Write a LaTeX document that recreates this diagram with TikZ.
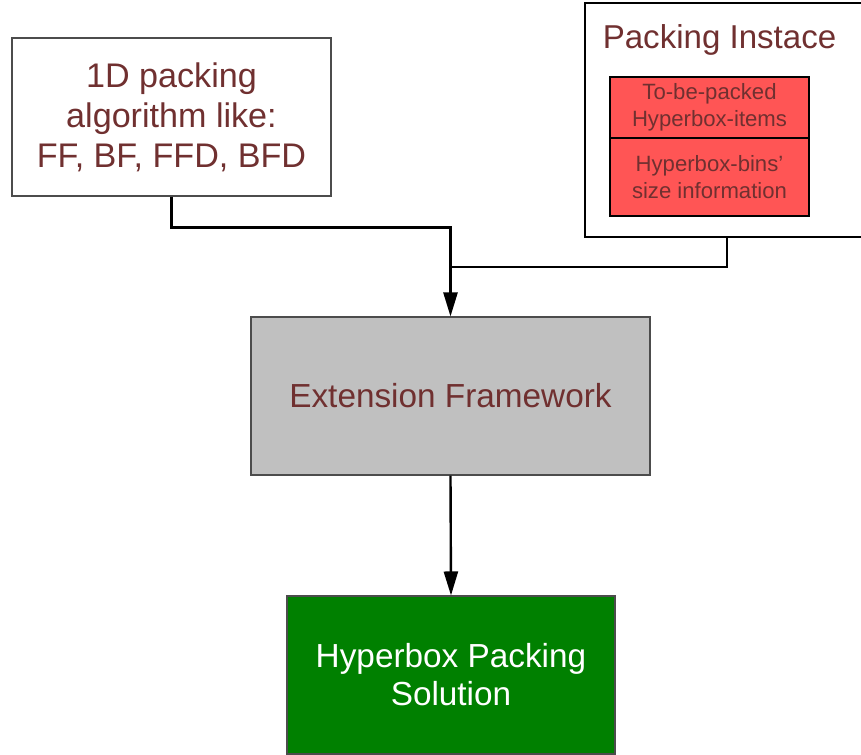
\documentclass[tikz,border=0pt]{standalone}
\usepackage{fontspec}
\setmainfont{Liberation Sans}
\usetikzlibrary{arrows.meta}
\definecolor{txtred}{RGB}{112,48,48}
\definecolor{itemred}{RGB}{255,85,85}
\definecolor{extgray}{RGB}{192,192,192}
\definecolor{solgreen}{RGB}{0,128,0}
\begin{document}
\begin{tikzpicture}[x=0.75pt, y=-0.75pt, >={Triangle[length=18pt,width=10.5pt]},
    box/.style={draw=black!70, line width=0.8pt, text=txtred, align=center, inner sep=0pt},
    item/.style={draw=black, line width=0.8pt, fill=itemred, text=txtred, align=center, inner sep=0pt,
        minimum width=149.25pt, font=\fontsize{16.6}{20}\selectfont},
    wire/.style={line width=1.8pt}]
    \useasboundingbox (0,0) rectangle (861,754);
    \node (algo) [box, minimum width=239.25pt, minimum height=118.5pt, font=\fontsize{25.6}{30}\selectfont] at (171.5,117) {1D packing\\algorithm like:\\FF, BF, FFD, BFD};
    \node (inst) [draw, line width=2.2pt, minimum width=213pt, minimum height=175.5pt] at (727,120) {};
    \node (title) [anchor=base, text=txtred, font=\fontsize{24.8}{29}\selectfont] at (719.5,48) {Packing Instace};
    \node (items) [item, minimum height=45.75pt] at (709.5,107.5) {To-be-packed\\Hyperbox-items};
    \node (bins) [item, minimum height=58.5pt] at (709.5,177) {Hyperbox-bins'\\size information};
    \node (ext) [box, fill=extgray, minimum width=299.25pt, minimum height=118.5pt, font=\fontsize{25}{29}\selectfont] at (450.5,396) {Extension Framework};
    \node (sol) [box, fill=solgreen, text=white, minimum width=246pt, minimum height=118.5pt, font=\fontsize{25}{28.5}\selectfont] at (451,675) {Hyperbox Packing\\Solution};
    \coordinate (join) at (450.5,267);
    \draw[wire, ->] (algo.south) -- ++(0,31) -| (ext.north);
    \draw[wire] (inst.south) |- (join);
    \draw[wire, ->] (ext.south) -- (sol.north);
\end{tikzpicture}
\end{document}
